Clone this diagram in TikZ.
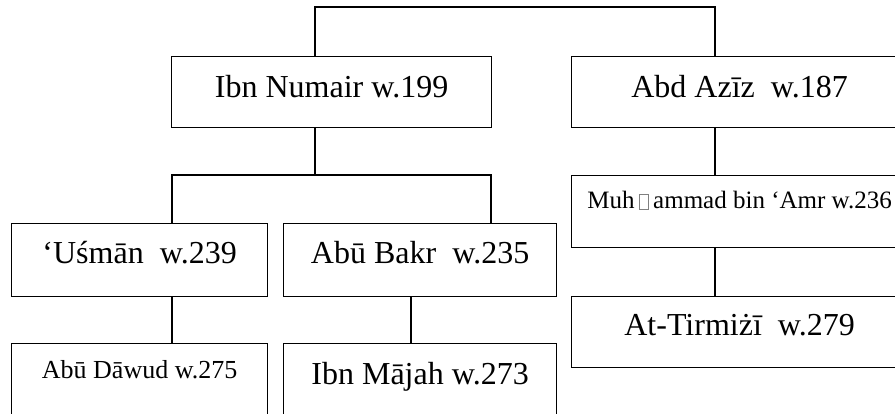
\documentclass[tikz,border=0pt]{standalone}
\usepackage{fontspec}
\setmainfont{Liberation Serif}
\newcommand{\bigname}{\fontsize{32}{36}\selectfont}
\newcommand{\smallname}{\fontsize{25}{28}\selectfont}
% the missing glyph box printed after "Muh"
\newcommand{\nochar}{{\color{gray}\setlength{\fboxsep}{0pt}\setlength{\fboxrule}{0.6pt}\fbox{\rule{0pt}{14pt}\hspace{9pt}}}}
\tikzset{
	namebox/.style={draw, line width=1.3pt, inner sep=0pt, anchor=north west, font=\bigname},
	link/.style={line width=1.3pt},
}

\begin{document}
\begin{tikzpicture}[x=1pt,y=-1pt]
		\useasboundingbox (0,0) rectangle (895,413);
		\clip (0,0) rectangle (895,413);
		\begin{scope}
			\node[namebox, minimum width=320pt, text height=41pt, text depth=30pt] (numair) at (171,56) {Ibn Numair w.199};
			\node[namebox, minimum width=336pt, text height=41pt, text depth=30pt] (aziz) at (571,56) {Abd Azīz\ \ w.187};

			\node[namebox, minimum width=256pt, text height=40pt, text depth=33pt] (usman) at (11,223) {‘Uśmān\ \ w.239};
			\node[namebox, minimum width=273pt, text height=40pt, text depth=33pt] (bakr) at (283,223) {Abū Bakr\ \ w.235};
			\node[namebox, minimum width=336pt, text height=33pt, text depth=39pt, font=\smallname] (muhammad) at (571,175) {Muh\,\nochar\,ammad bin ‘Amr w.236};

			\node[namebox, minimum width=256pt, text height=35pt, text depth=45pt, font=\fontsize{26}{29}\selectfont] (dawud) at (11,343) {Abū Dāwud w.275};
			\node[namebox, minimum width=273pt, text height=41pt, text depth=39pt] (majah) at (283,343) {Ibn Mājah w.273};
			\node[namebox, minimum width=336pt, text height=39pt, text depth=32pt] (tirmidhi) at (571,296) {At-Tirmiżī\ \ w.279};

			\coordinate (topl) at (315,7);
			\coordinate (topr) at (715,7);
			\draw[link] (numair.north -| topl) -- (topl) -- (topr) -- (aziz.north -| topr); % top branch

			\coordinate (fork) at (315,175);
			\coordinate (forkl) at (172,175);
			\coordinate (forkr) at (491,175);
			\draw[link] (numair.south -| fork) -- (fork);
			\draw[link] (usman.north -| forkl) -- (forkl) -- (forkr) -- (bakr.north -| forkr); % Ibn Numair branch

			\draw[link] (usman.south -| forkl) -- (dawud.north -| forkl);
			\draw[link] (bakr.south -| 411,0) -- (majah.north -| 411,0);
			\draw[link] (aziz.south -| topr) -- (muhammad.north -| topr);
			\draw[link] (muhammad.south -| topr) -- (tirmidhi.north -| topr);
		\end{scope}
	\end{tikzpicture}
\end{document}
